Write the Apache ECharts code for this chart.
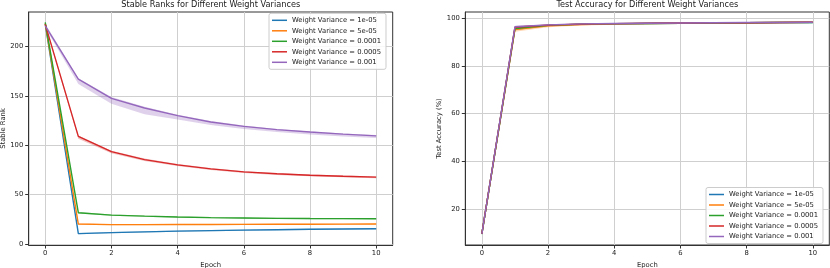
<!DOCTYPE html>
<html>
<head>
<meta charset="utf-8">
<script src="https://cdn.jsdelivr.net/npm/echarts@6/dist/echarts.min.js"></script>
<style>html,body{margin:0;padding:0;background:#fff}#c{width:830px;height:268px}</style>
</head>
<body>
<div id="c"></div>
<script>
const epochs = [0,1,2,3,4,5,6,7,8,9,10];
const xTicks = [0,2,4,6,8,10];
const rankTicks = [0,50,100,150,200];
const accTicks = [20,40,60,80,100];
const names = ['Weight Variance = 1e-05','Weight Variance = 5e-05','Weight Variance = 0.0001','Weight Variance = 0.0005','Weight Variance = 0.001'];
const colors = ['#1f77b4','#ff7f0e','#2ca02c','#d62728','#9467bd'];

// Stable rank (mean, lower, upper)
const rank1 = [223, 10.5, 11.5, 12.3, 13.1, 13.6, 14.1, 14.5, 14.9, 15.2, 15.5];
const rank1Lo = [222, 9.8, 10.9, 11.7, 12.5, 13.0, 13.5, 13.9, 14.3, 14.6, 14.9];
const rank1Hi = [224, 11.2, 12.1, 12.9, 13.7, 14.2, 14.7, 15.1, 15.5, 15.8, 16.1];
const rank2 = [223.5, 20.2, 19.6, 19.6, 19.7, 19.8, 19.9, 20.0, 20.0, 20.1, 20.2];
const rank2Lo = [222.5, 19.6, 19.1, 19.1, 19.2, 19.3, 19.4, 19.5, 19.5, 19.6, 19.7];
const rank2Hi = [224.5, 20.8, 20.1, 20.1, 20.2, 20.3, 20.4, 20.5, 20.5, 20.6, 20.7];
const rank3 = [224.5, 31.7, 29.3, 28.2, 27.3, 26.7, 26.3, 26.0, 25.8, 25.7, 25.6];
const rank3Lo = [223.5, 31.0, 28.7, 27.6, 26.7, 26.1, 25.7, 25.4, 25.2, 25.1, 25.0];
const rank3Hi = [225.5, 32.4, 29.9, 28.8, 27.9, 27.3, 26.9, 26.6, 26.4, 26.3, 26.2];
const rank4 = [222.5, 109, 93.6, 85.5, 80.2, 76.1, 73.1, 71.1, 69.7, 68.6, 67.7];
const rank4Lo = [221, 106.5, 92, 84, 79, 75, 72, 70, 68.7, 67.7, 66.7];
const rank4Hi = [224, 110, 94.5, 86.5, 81, 77, 73.8, 71.8, 70.4, 69.3, 68.4];
const rank5 = [221, 167, 147.5, 137.8, 130, 123.6, 119.2, 115.9, 113.5, 111.3, 109.5];
const rank5Lo = [219, 162, 142, 131.5, 126, 120.5, 116.5, 113.5, 111, 109, 107.5];
const rank5Hi = [223, 168, 149, 139, 131, 124.5, 120, 116.5, 114, 112, 110.5];

// Test accuracy (mean, lower, upper)
const acc1 = [9.5, 95.8, 97.0, 97.4, 97.6, 97.8, 97.9, 98.0, 98.1, 98.2, 98.2];
const acc1Lo = [9.2, 95.0, 96.6, 97.1, 97.4, 97.6, 97.7, 97.8, 97.9, 98.0, 98.0];
const acc1Hi = [9.8, 96.5, 97.4, 97.7, 97.8, 98.0, 98.1, 98.2, 98.3, 98.4, 98.4];
const acc2 = [9.6, 95.2, 96.8, 97.3, 97.6, 97.7, 97.9, 98.0, 98.1, 98.2, 98.3];
const acc2Lo = [9.3, 94.3, 96.2, 96.9, 97.3, 97.5, 97.7, 97.8, 97.9, 98.0, 98.1];
const acc2Hi = [9.9, 96.0, 97.3, 97.7, 97.9, 97.9, 98.1, 98.2, 98.3, 98.4, 98.5];
const acc3 = [9.4, 95.6, 97.0, 97.5, 97.7, 97.8, 97.9, 98.0, 98.1, 98.2, 98.2];
const acc3Lo = [9.1, 94.9, 96.7, 97.2, 97.5, 97.6, 97.7, 97.8, 97.9, 98.0, 98.0];
const acc3Hi = [9.7, 96.3, 97.3, 97.8, 97.9, 98.0, 98.1, 98.2, 98.3, 98.4, 98.4];
const acc4 = [9.5, 96.2, 97.1, 97.5, 97.7, 97.9, 98.0, 98.1, 98.1, 98.2, 98.3];
const acc4Lo = [9.2, 95.6, 96.8, 97.2, 97.5, 97.7, 97.8, 97.9, 97.9, 98.0, 98.1];
const acc4Hi = [9.8, 96.7, 97.4, 97.8, 97.9, 98.1, 98.2, 98.3, 98.3, 98.4, 98.5];
const acc5 = [9.5, 96.4, 97.2, 97.6, 97.8, 97.9, 98.0, 98.1, 98.2, 98.2, 98.3];
const acc5Lo = [9.2, 95.9, 96.9, 97.3, 97.6, 97.7, 97.8, 97.9, 98.0, 98.0, 98.1];
const acc5Hi = [9.8, 96.8, 97.5, 97.9, 98.0, 98.1, 98.2, 98.3, 98.4, 98.4, 98.5];

const rankMeans = [rank1, rank2, rank3, rank4, rank5];
const rankLows = [rank1Lo, rank2Lo, rank3Lo, rank4Lo, rank5Lo];
const rankHighs = [rank1Hi, rank2Hi, rank3Hi, rank4Hi, rank5Hi];
const accMeans = [acc1, acc2, acc3, acc4, acc5];
const accLows = [acc1Lo, acc2Lo, acc3Lo, acc4Lo, acc5Lo];
const accHighs = [acc1Hi, acc2Hi, acc3Hi, acc4Hi, acc5Hi];

const FONT = 'DejaVu Sans';
const TXT = '#1a1a1a';

function band(color, lo, hi, gi) {
  return {
    type: 'custom', xAxisIndex: gi, yAxisIndex: gi, silent: true, z: 1,
    data: [[epochs[0], lo[0]]],
    renderItem: function (params, api) {
      const top = epochs.map((e, i) => api.coord([e, hi[i]]));
      const bot = epochs.map((e, i) => api.coord([e, lo[i]])).reverse();
      return { type: 'polygon', shape: { points: top.concat(bot) }, style: { fill: color, opacity: 0.3 } };
    }
  };
}
function line(name, color, vals, gi) {
  return {
    type: 'line', name: name, xAxisIndex: gi, yAxisIndex: gi, z: 3,
    data: epochs.map((e, i) => [e, vals[i]]),
    symbol: 'none', lineStyle: { color: color, width: 1.4 }, itemStyle: { color: color },
    emphasis: { disabled: true }, animation: false
  };
}
function xAxis(gi) {
  return {
    type: 'value', gridIndex: gi, min: -0.5, max: 10.5,
    name: 'Epoch', nameLocation: 'middle', nameGap: 13,
    nameTextStyle: { fontFamily: FONT, fontSize: 6.8, color: TXT },
    axisLine: { onZero: false, lineStyle: { color: '#333', width: 1 } },
    axisTick: { show: true, length: 3.5, customValues: xTicks, lineStyle: { color: '#333' } },
    axisLabel: { customValues: xTicks, margin: 5, fontFamily: FONT, fontSize: 6.8, color: TXT },
    splitLine: { show: true, lineStyle: { color: '#cfcfcf', width: 1 } }
  };
}
function yAxis(gi, min, max, ticks, name) {
  return {
    type: 'value', gridIndex: gi, min: min, max: max,
    name: name, nameLocation: 'middle', nameGap: 20,
    nameTextStyle: { fontFamily: FONT, fontSize: 6.8, color: TXT },
    axisLine: { show: true, onZero: false, lineStyle: { color: '#333', width: 1 } },
    axisTick: { show: true, length: 3.5, customValues: ticks, lineStyle: { color: '#333' } },
    axisLabel: { customValues: ticks, margin: 5.5, fontFamily: FONT, fontSize: 6.8, color: TXT },
    splitLine: { show: true, lineStyle: { color: '#cfcfcf', width: 1 } }
  };
}
function legend(left, top) {
  return {
    data: names, left: left, top: top, orient: 'vertical',
    icon: 'rect', itemWidth: 15, itemHeight: 1.5, itemGap: 2.5,
    padding: [3, 5, 3, 3], backgroundColor: 'rgba(255,255,255,0.85)',
    borderColor: '#cccccc', borderWidth: 1, borderRadius: 2,
    selectedMode: false,
    textStyle: { fontFamily: FONT, fontSize: 6.8, lineHeight: 8, color: TXT, padding: [0, 0, 0, 0] }
  };
}

const series = [];
for (let k = 0; k < 5; k++) series.push(band(colors[k], rankLows[k], rankHighs[k], 0));
for (let k = 0; k < 5; k++) series.push(line(names[k], colors[k], rankMeans[k], 0));
for (let k = 0; k < 5; k++) series.push(band(colors[k], accLows[k], accHighs[k], 1));
for (let k = 0; k < 5; k++) series.push(line(names[k], colors[k], accMeans[k], 1));

const chart = echarts.init(document.getElementById('c'), null, { renderer: 'canvas' });
chart.setOption({
  animation: false,
  backgroundColor: '#ffffff',
  title: [
    { text: 'Stable Ranks for Different Weight Variances', left: 210.7, top: 0.5, padding: 0, textAlign: 'center',
      textStyle: { fontFamily: FONT, fontSize: 8.2, fontWeight: 'normal', color: TXT } },
    { text: 'Test Accuracy for Different Weight Variances', left: 647.3, top: 0.5, padding: 0, textAlign: 'center',
      textStyle: { fontFamily: FONT, fontSize: 8.2, fontWeight: 'normal', color: TXT } }
  ],
  grid: [
    { left: 28.7, top: 12, width: 364, height: 233, containLabel: false, outerBoundsMode: 'none',
      show: true, borderColor: '#333', borderWidth: 1, backgroundColor: 'transparent' },
    { left: 465.3, top: 12, width: 364, height: 233, containLabel: false, outerBoundsMode: 'none',
      show: true, borderColor: '#333', borderWidth: 1, backgroundColor: 'transparent' }
  ],
  xAxis: [xAxis(0), xAxis(1)],
  yAxis: [yAxis(0, -1, 235, rankTicks, 'Stable Rank'), yAxis(1, 4.8, 102.6, accTicks, 'Test Accuracy (%)')],
  legend: [legend(269, 13.3), legend(706, 187.5)],
  series: series
});
</script>
</body>
</html>
